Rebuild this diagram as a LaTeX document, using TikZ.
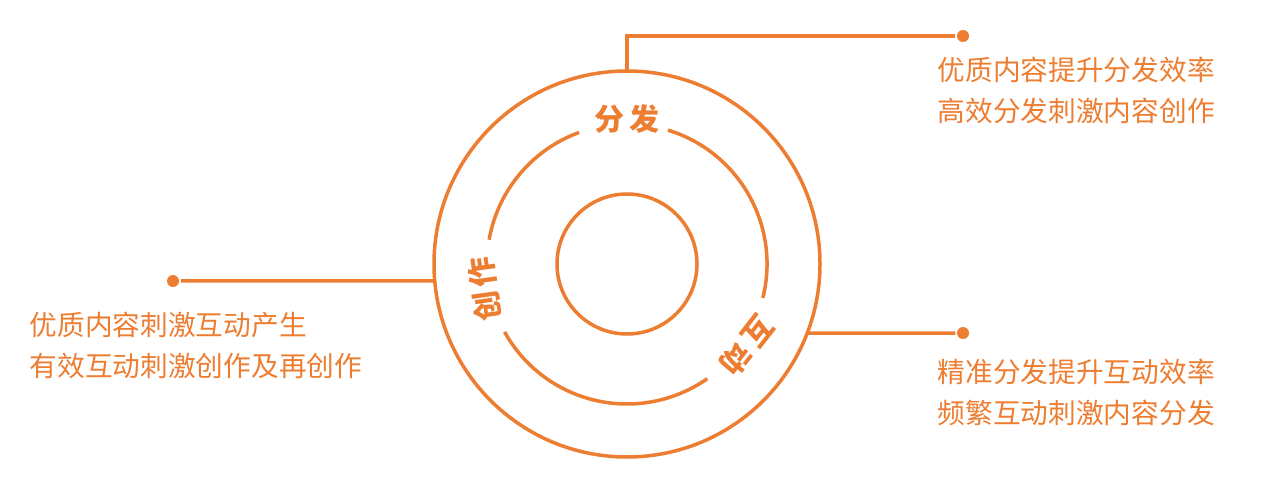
\documentclass[tikz,border=0pt]{standalone}
\usepackage{fontspec}
\newfontfamily\cjk{Noto Sans CJK SC}
\definecolor{ringorange}{HTML}{ED7D31}

\tikzset{
  ring/.style={circle, draw=ringorange, line width=3.5pt, inner sep=0pt, outer sep=0pt},
  dot/.style={circle, fill=ringorange, minimum size=12pt, inner sep=0pt},
  ringlabel/.style={text=ringorange, font=\cjk\bfseries\fontsize{30}{36}\selectfont, inner sep=0pt},
  desc/.style={text=ringorange, font=\cjk\fontsize{27.7}{41}\selectfont, align=left, inner sep=0pt, anchor=west}
}

\begin{document}
\begin{tikzpicture}[x=1pt, y=1pt, line width=3.5pt]
\useasboundingbox (0,0) rectangle (1276,480);

\coordinate (c) at (627,216);
\node[ring, minimum size=386pt] (outer) at (c) {};
\node[ring, minimum size=140pt] (inner) at (c) {};

\draw[ringorange] (c) ++(110:140) arc[start angle=110, end angle=170, radius=140];
\draw[ringorange] (c) ++(209:140) arc[start angle=209, end angle=305, radius=140];
\draw[ringorange] (c) ++(346:140) arc[start angle=346, end angle=433, radius=140];

\node[ringlabel] (fenfa) at ([shift={(90:145)}]c) {分\hspace{5pt}发};
\node[ringlabel, rotate=98] (chuangzuo) at ([shift={(190:145)}]c) {创\hspace{5pt}作};
\node[ringlabel, rotate=-128] (hudong) at ([shift={(326:145)}]c) {互\hspace{5pt}动};

\node[dot] (dotfenfa) at (963,444) {};
\draw[ringorange] (outer.north) |- (dotfenfa);
\node[desc] (textfenfa) at (936,390) {优质内容提升分发效率\\高效分发刺激内容创作};

\node[dot] (dotchuangzuo) at (173,199) {};
\draw[ringorange] (outer.185) -- (dotchuangzuo);
\node[desc] (textchuangzuo) at (28,135) {优质内容刺激互动产生\\有效互动刺激创作及再创作};

\node[dot] (dothudong) at (963,147) {};
\draw[ringorange] (outer.-21) -- (dothudong);
\node[desc] (texthudong) at (936,88) {精准分发提升互动效率\\频繁互动刺激内容分发};

\end{tikzpicture}
\end{document}
